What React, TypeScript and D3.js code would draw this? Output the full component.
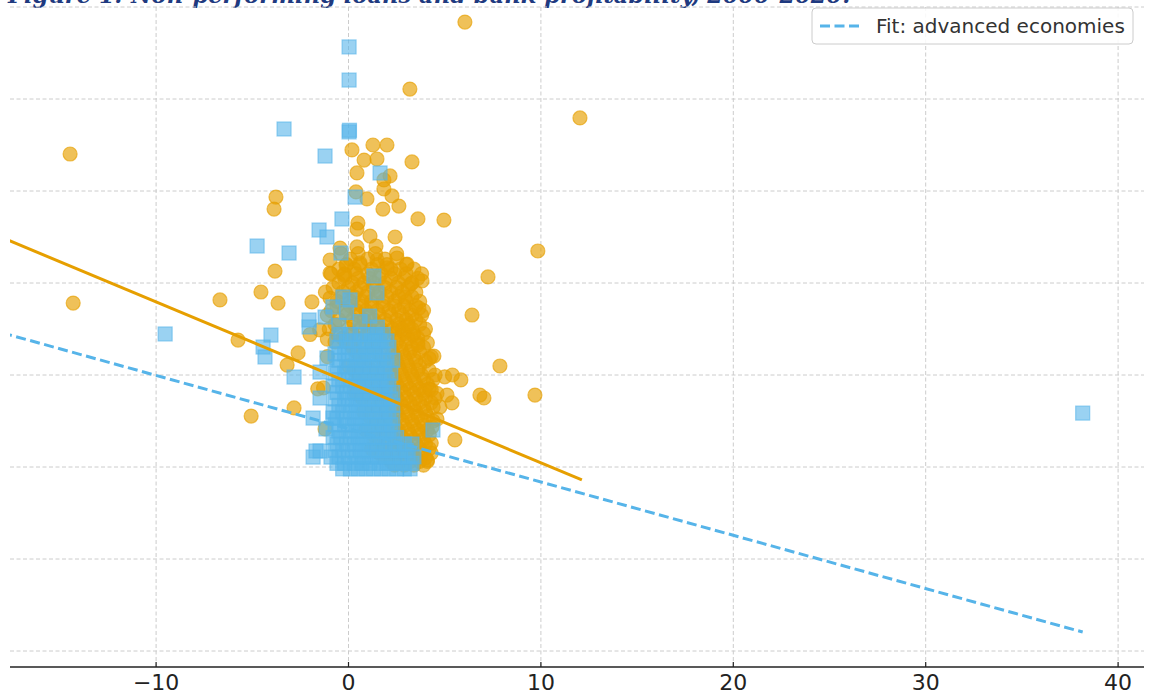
import React from "react";
import * as d3 from "d3";

// ---- data (x: labelled axis units; y: grid units, 5 per gridline) ----
const xTicks = [-10, 0, 10, 20, 30, 40];
const yGrid = [-10, -5, 0, 5, 10, 15, 20, 25];

// Emerging / other economies (orange circles): sparse points
const orangeSparse: [number, number][] = [
  [6.05, 24.18], [3.19, 20.54], [12.03, 18.97], [-14.47, 17.01], [-14.31, 8.91],
  [0.18, 17.23], [1.27, 17.5], [2.0, 17.5], [0.81, 16.68], [1.48, 16.74], [3.3, 16.58],
  [0.44, 15.98], [1.84, 15.6], [2.16, 15.82], [0.39, 14.95], [1.84, 15.11],
  [0.96, 14.57], [2.26, 14.73], [2.62, 14.18], [1.79, 14.02], [3.61, 13.48], [4.96, 13.42],
  [-3.77, 14.67], [-3.87, 14.02], [0.49, 13.26], [0.44, 12.93], [1.12, 12.55], [2.42, 12.5],
  [1.43, 12.01], [0.44, 11.96], [-0.44, 11.9], [9.84, 11.74], [-3.82, 10.65],
  [-0.96, 11.25], [-0.96, 10.54], [-0.13, 10.98], [2.52, 11.36], [3.04, 11.03],
  [1.48, 11.25], [0.6, 11.09], [2.0, 10.82], [-0.23, 10.43], [3.82, 10.11], [3.25, 9.95],
  [7.25, 10.33], [-6.68, 9.08], [-3.66, 8.91], [-4.55, 9.51], [-1.9, 8.97], [-0.96, 9.18],
  [-5.74, 6.9], [-2.62, 6.2], [-3.19, 5.54], [6.42, 8.26], [7.87, 5.49], [9.69, 3.91],
  [6.83, 3.91], [7.04, 3.75], [-5.06, 2.77], [-2.83, 3.21], [-1.22, 2.07], [5.53, 1.47],
  [4.34, 2.17], [3.61, 6.63], [4.44, 6.03], [3.97, 4.18], [5.12, 3.91], [5.38, 3.48],
  [4.75, 3.26], [5.84, 4.73], [2.94, 9.24], [3.66, 8.64], [2.57, 7.55], [3.35, 7.17],
  [3.09, 7.66], [-1.5, 7.45], [-2.0, 7.2], [-1.1, 6.95], [-0.7, 6.8], [-1.1, 6.0],
  [-1.3, 4.3], [-1.6, 4.25], [4.1, 0.38], [4.3, 1.3], [4.6, 2.6], [5.0, 4.9], [5.4, 5.0],
  [4.2, 5.9], [4.3, 4.2],
];

// Orange dense cluster, one row per y level: [y, xs]
const orangeRows: [number, number[]][] = [
  [11.6, [-0.4, 0.5, 1.4, 2.5]],
  [11.3, [0.1, 1.0, 1.9]],
  [11.0, [-0.1, 0.6, 1.5, 2.0, 3.0]],
  [10.75, [-0.5, 0.3, 1.2, 2.2, 2.7, 3.4]],
  [10.5, [-0.9, -0.2, 0.4, 1.0, 1.7, 2.4, 3.0, 3.8]],
  [10.25, [-0.2, 0.5, 1.1, 1.6, 2.2, 2.9, 3.6]],
  [10.0, [-0.5, 0.2, 0.8, 1.3, 1.9, 2.6, 3.3]],
  [9.75, [-0.8, 0.0, 0.6, 1.3, 1.9, 2.5, 3.1]],
  [9.5, [-1.2, -0.3, 0.4, 1.0, 1.6, 2.2, 2.8, 3.5]],
  [9.25, [-0.3, 0.3, 0.9, 1.5, 2.0, 2.6, 3.3]],
  [9.0, [-0.6, 0.1, 0.7, 1.2, 1.8, 2.4, 3.0, 3.7]],
  [8.75, [-0.6, 0.1, 0.7, 1.2, 1.8, 2.4, 2.9, 3.5]],
  [8.5, [-0.9, -0.2, 0.4, 0.9, 1.5, 2.1, 2.6, 3.2, 3.9]],
  [8.25, [-1.1, -0.1, 0.5, 1.0, 1.6, 2.2, 2.8, 3.3, 3.8]],
  [8.0, [-0.5, 0.2, 0.8, 1.3, 1.9, 2.5, 3.0, 3.5]],
  [7.75, [-0.7, 0.3, 0.9, 1.5, 2.0, 2.6, 3.1, 3.7]],
  [7.5, [-1.0, 0.0, 0.6, 1.1, 1.7, 2.3, 2.8, 3.3, 4.0]],
  [7.25, [-0.6, 0.2, 1.0, 1.8, 2.4, 2.9, 3.4, 3.9]],
  [7.0, [-0.3, 0.5, 1.3, 2.0, 2.6, 3.1, 3.6]],
  [6.75, [0.0, 0.9, 1.7, 2.5, 3.0, 3.6, 4.1]],
  [6.5, [0.2, 1.2, 2.2, 2.7, 3.3, 3.9]],
  [6.25, [0.4, 1.4, 2.3, 2.8, 3.2, 3.7]],
  [6.0, [0.6, 1.6, 2.4, 2.9, 3.4, 4.3]],
  [5.75, [0.8, 1.8, 2.5, 3.0, 3.5, 4.0]],
  [5.5, [0.0, 1.0, 2.0, 2.6, 3.1, 3.7]],
  [5.25, [0.3, 1.2, 2.1, 2.7, 3.2, 3.6, 4.2]],
  [5.0, [0.5, 1.5, 2.3, 2.8, 3.3, 3.8, 4.5]],
  [4.75, [0.8, 1.8, 2.4, 2.9, 3.4, 3.9, 4.4]],
  [4.5, [1.0, 2.0, 2.5, 3.0, 3.5, 4.1]],
  [4.25, [1.3, 2.2, 2.7, 3.2, 3.7, 4.2]],
  [4.0, [0.4, 1.6, 2.4, 2.9, 3.4, 3.9, 4.6]],
  [3.75, [0.7, 1.9, 2.5, 3.0, 3.5, 4.0, 4.5]],
  [3.5, [1.2, 2.2, 2.7, 3.2, 3.7, 4.3]],
  [3.25, [1.5, 2.4, 2.9, 3.4, 3.9, 4.4]],
  [3.0, [0.8, 1.9, 2.5, 3.0, 3.5, 4.0]],
  [2.75, [1.1, 2.1, 2.6, 3.1, 3.6, 4.1]],
  [2.5, [1.5, 2.3, 2.8, 3.3, 3.8, 4.4]],
  [2.25, [1.7, 2.4, 2.9, 3.4, 3.9]],
  [2.0, [0.9, 2.0, 2.6, 3.1, 3.6, 4.1]],
  [1.75, [1.3, 2.2, 2.7, 3.2, 3.7, 4.2]],
  [1.5, [1.6, 2.4, 2.9, 3.4, 3.9]],
  [1.25, [1.9, 2.5, 3.0, 3.5, 4.0]],
  [1.0, [1.2, 2.2, 2.7, 3.2, 3.7, 4.2]],
  [0.75, [1.6, 2.3, 2.8, 3.3, 3.8, 4.3]],
  [0.5, [2.0, 2.5, 3.0, 3.5, 4.0]],
  [0.3, [2.2, 2.7, 3.2, 3.7, 4.1]],
  [0.1, [2.4, 2.9, 3.4, 3.9]],
];

// Advanced economies (blue squares): sparse points
const blueSparse: [number, number][] = [
  [0.03, 22.83], [0.03, 21.03], [0.03, 18.21], [0.05, 18.3], [-3.35, 18.37], [-1.22, 16.9],
  [1.64, 15.98], [0.34, 14.67], [-0.34, 13.48], [-4.75, 12.01], [-3.09, 11.63],
  [-1.53, 12.88], [-1.12, 12.5], [-0.39, 11.63], [1.32, 10.38], [1.48, 9.46],
  [-9.53, 7.23], [-4.03, 7.17], [-4.44, 6.52], [-4.34, 5.98], [-2.83, 4.89],
  [-2.05, 7.99], [-2.05, 7.61], [-1.48, 3.75], [-0.81, 2.66], [-1.84, 2.66], [-1.17, 2.07],
  [-1.69, 0.87], [-1.84, 0.54], [-1.48, 0.87], [-0.91, 0.54], [4.39, 2.01], [38.16, 2.93],
  [-1.12, 5.92], [-1.48, 5.16], [-1.22, 8.15], [-0.81, 8.7], [-0.29, 9.24], [0.08, 9.08],
  [-0.1, 8.4], [0.6, 7.9], [1.1, 8.2], [1.5, 7.6], [-0.5, 7.7],
];

// Blue dense cluster, one row per y level: [y, xs]
const blueRows: [number, number[]][] = [
  [-0.1, [-0.3, 0.1, 0.5, 0.9, 1.3, 1.7, 2.1, 2.5, 2.9, 3.2]],
  [0.2, [-0.6, -0.2, 0.3, 0.7, 1.1, 1.6, 2.0, 2.4, 2.8, 3.3]],
  [0.55, [-0.5, 0.0, 0.4, 0.8, 1.2, 1.5, 1.9, 2.3, 2.7, 3.1, 3.4]],
  [0.9, [-0.7, -0.3, 0.2, 0.6, 1.0, 1.4, 1.8, 2.2, 2.6, 3.0]],
  [1.25, [-0.6, -0.1, 0.3, 0.7, 1.1, 1.5, 1.9, 2.4, 2.9, 3.3]],
  [1.6, [-0.8, -0.4, 0.1, 0.5, 0.9, 1.3, 1.7, 2.1, 2.5]],
  [1.95, [-0.5, 0.0, 0.4, 0.8, 1.2, 1.6, 2.0, 2.3]],
  [2.3, [-0.7, -0.2, 0.2, 0.6, 1.0, 1.4, 1.8, 2.2]],
  [2.65, [-0.6, -0.1, 0.3, 0.7, 1.1, 1.5, 1.9, 2.3]],
  [3.0, [-0.8, -0.3, 0.1, 0.5, 0.9, 1.3, 1.7, 2.1]],
  [3.35, [-0.5, 0.0, 0.4, 0.8, 1.2, 1.6, 2.0, 2.3]],
  [3.7, [-0.7, -0.2, 0.2, 0.6, 1.0, 1.4, 1.8, 2.2]],
  [4.05, [-0.6, -0.1, 0.3, 0.7, 1.1, 1.5, 1.9, 2.3]],
  [4.4, [-0.8, -0.3, 0.1, 0.5, 0.9, 1.3, 1.7, 2.1]],
  [4.75, [-0.5, 0.0, 0.4, 0.8, 1.2, 1.6, 2.0]],
  [5.1, [-0.7, -0.2, 0.2, 0.6, 1.0, 1.4, 1.8, 2.2]],
  [5.45, [-0.6, -0.1, 0.3, 0.7, 1.1, 1.5, 1.9]],
  [5.8, [-0.5, 0.0, 0.4, 0.8, 1.2, 1.6, 2.0, 2.3]],
  [6.15, [-0.7, -0.2, 0.2, 0.6, 1.0, 1.4, 1.8]],
  [6.5, [-0.5, 0.0, 0.5, 0.9, 1.3, 1.7, 2.1]],
  [6.85, [-0.6, -0.1, 0.3, 0.8, 1.2, 1.6, 2.0]],
  [7.2, [-0.4, 0.1, 0.6, 1.0, 1.4, 1.8]],
];

// Linear fits: [xStart, xEnd], intercept, slope
const fitAdvanced = { x: [-18, 38.16], a: 2.08, b: -0.2896 };
const fitEmerging = { x: [-18, 12.13], a: 4.6, b: -0.437 };

const titleText = "Figure 1: Non-performing loans and bank profitability, 2000-2020.";
const legendLabel = "Fit: advanced economies";

const ORANGE = "#E69F00";
const BLUE = "#56B4E9";

export default function App() {
  const W = 1152, H = 695;
  const left = 10, right = 1144, top = 7, bottom = 667;
  const x = d3.scaleLinear().domain([(left - 348.5) / 19.24, (right - 348.5) / 19.24]).range([left, right]);
  const y = d3.scaleLinear().domain([(467 - bottom) / 18.4, 25]).range([bottom, top]);

  const orangePts: [number, number][] = [
    ...orangeRows.flatMap(([yy, xs]) => xs.map((xx) => [xx, yy] as [number, number])),
    ...orangeSparse,
  ];
  const bluePts: [number, number][] = [
    ...blueRows.flatMap(([yy, xs]) => xs.map((xx) => [xx, yy] as [number, number])),
    ...blueSparse,
  ];

  const fitPath = (f: { x: number[]; a: number; b: number }) =>
    d3.line<[number, number]>().x((d) => x(d[0])).y((d) => y(d[1]))(
      f.x.map((xx) => [xx, f.a + f.b * xx] as [number, number])
    ) as string;

  const sq = 14;
  return (
    <svg width={W} height={H} style={{ position: "absolute", left: 0, top: 0, background: "#fff" }}
      fontFamily="'DejaVu Sans', sans-serif">
      <defs>
        <clipPath id="plot">
          <rect x={left} y={0} width={right - left} height={bottom} />
        </clipPath>
      </defs>
      <rect x={0} y={0} width={W} height={H} fill="#fff" />
      <text x={8} y={3} fontFamily="'DejaVu Serif', serif" fontStyle="italic" fontWeight="bold"
        fontSize={22.6} fill="#1f3a80">{titleText}</text>
      {/* grid */}
      <g stroke="#cccccc" strokeWidth={1} strokeDasharray="4 2.5">
        {yGrid.map((v) => (
          <line key={"h" + v} x1={left} x2={right} y1={y(v)} y2={y(v)} />
        ))}
        {xTicks.map((v) => (
          <line key={"v" + v} x1={x(v)} x2={x(v)} y1={top} y2={bottom} />
        ))}
      </g>
      <g clipPath="url(#plot)">
        {orangePts.map((p, i) => (
          <circle key={"o" + i} cx={x(p[0])} cy={y(p[1])} r={7} fill={ORANGE} fillOpacity={0.65}
            stroke={ORANGE} strokeOpacity={0.65} strokeWidth={1.2} />
        ))}
        {bluePts.map((p, i) => (
          <rect key={"b" + i} x={x(p[0]) - sq / 2} y={y(p[1]) - sq / 2} width={sq} height={sq}
            fill={BLUE} fillOpacity={0.6} stroke={BLUE} strokeOpacity={0.6} strokeWidth={1.2} />
        ))}
        <path d={fitPath(fitEmerging)} fill="none" stroke={ORANGE} strokeWidth={3} />
        <path d={fitPath(fitAdvanced)} fill="none" stroke={BLUE} strokeWidth={3} strokeDasharray="10 4.5" />
      </g>
      {/* x axis */}
      <line x1={left} x2={right} y1={bottom} y2={bottom} stroke="#222" strokeWidth={1.5} />
      {xTicks.map((v) => (
        <g key={"t" + v}>
          <line x1={x(v)} x2={x(v)} y1={bottom} y2={bottom - 5} stroke="#222" strokeWidth={1.2} />
          <text x={x(v)} y={690} textAnchor="middle" fontSize={22} fill="#222">
            {v < 0 ? "\u2212" + Math.abs(v) : String(v)}
          </text>
        </g>
      ))}
      {/* legend */}
      <rect x={812} y={8} width={321} height={36} rx={4} fill="#fff" fillOpacity={0.85} stroke="#cccccc" strokeWidth={1} />
      <line x1={820} x2={860} y1={26} y2={26} stroke={BLUE} strokeWidth={3} strokeDasharray="10 4.5" />
      <text x={876} y={33} fontSize={20} fill="#333">{legendLabel}</text>
    </svg>
  );
}
